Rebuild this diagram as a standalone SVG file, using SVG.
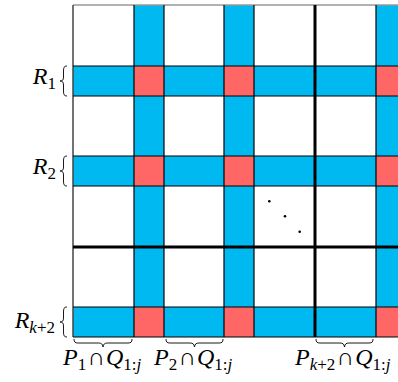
<svg xmlns="http://www.w3.org/2000/svg" width="398" height="382" viewBox="0 0 398 382">
<style>
.blue{fill:#00B9F1}
.red{fill:#FF6666}
.thin{stroke:#000;stroke-width:1.2;fill:none}
.thick{stroke:#000;stroke-width:3;fill:none}
.brace{stroke:#000;stroke-width:0.9;fill:none}
.lbl{font-family:"Liberation Serif","Times New Roman",serif;font-size:24px;fill:#000}
.it{font-style:italic}
.sub{font-size:17px}
</style>
<rect width="398" height="382" fill="#fff"/>
<g id="matrix">
  <g id="bands">
    <rect class="blue" x="134" y="5" width="30" height="332"/>
    <rect class="blue" x="224" y="5" width="30" height="332"/>
    <rect class="blue" x="376" y="5" width="30" height="332"/>
    <rect class="blue" x="73" y="66" width="330" height="30"/>
    <rect class="blue" x="73" y="156" width="330" height="30"/>
    <rect class="blue" x="73" y="307" width="330" height="30"/>
  </g>
  <g id="intersections">
    <rect class="red" x="134" y="66" width="30" height="30"/>
    <rect class="red" x="224" y="66" width="30" height="30"/>
    <rect class="red" x="376" y="66" width="30" height="30"/>
    <rect class="red" x="134" y="156" width="30" height="30"/>
    <rect class="red" x="224" y="156" width="30" height="30"/>
    <rect class="red" x="376" y="156" width="30" height="30"/>
    <rect class="red" x="134" y="307" width="30" height="30"/>
    <rect class="red" x="224" y="307" width="30" height="30"/>
    <rect class="red" x="376" y="307" width="30" height="30"/>
  </g>
  <g id="gridlines">
    <line x1="73" y1="5" x2="398" y2="5" stroke="#999" stroke-width="1.5"/>
    <line x1="73" y1="5" x2="73" y2="337" stroke="#444" stroke-width="1.5"/>
    <line class="thin" x1="134" y1="5" x2="134" y2="337"/>
    <line class="thin" x1="164" y1="5" x2="164" y2="337"/>
    <line class="thin" x1="224" y1="5" x2="224" y2="337"/>
    <line class="thin" x1="254" y1="5" x2="254" y2="337"/>
    <line class="thin" x1="376" y1="5" x2="376" y2="337"/>
    <line class="thin" x1="73" y1="66" x2="398" y2="66"/>
    <line class="thin" x1="73" y1="96" x2="398" y2="96"/>
    <line class="thin" x1="73" y1="156" x2="398" y2="156"/>
    <line class="thin" x1="73" y1="186" x2="398" y2="186"/>
    <line class="thin" x1="73" y1="307" x2="398" y2="307"/>
    <line class="thin" x1="73" y1="337" x2="398" y2="337"/>
    <line class="thick" x1="315" y1="5" x2="315" y2="337"/>
    <line class="thick" x1="73" y1="247" x2="398" y2="247"/>
  </g>
  <g id="dots" fill="#000">
    <circle cx="269.3" cy="201.3" r="1.3"/>
    <circle cx="285" cy="216.3" r="1.3"/>
    <circle cx="299.7" cy="231.7" r="1.3"/>
  </g>
</g>
<g id="braces">
  <path class="brace" d="M67,66 C64,66 63.5,67.5 63.5,71 L63.5,77 C63.5,80 62.5,81 60,81 C62.5,81 63.5,82 63.5,85 L63.5,91 C63.5,94.5 64,96 67,96"/>
  <path class="brace" d="M67,156 C64,156 63.5,157.5 63.5,161 L63.5,167 C63.5,170 62.5,171 60,171 C62.5,171 63.5,172 63.5,175 L63.5,181 C63.5,184.5 64,186 67,186"/>
  <path class="brace" d="M67,307 C64,307 63.5,308.5 63.5,312 L63.5,318 C63.5,321 62.5,322 60,322 C62.5,322 63.5,323 63.5,326 L63.5,332 C63.5,335.5 64,337 67,337"/>
  <path class="brace" d="M74,339 C74,342 75,343 78,343 L98.5,343 C101.5,343 102.5,344 103,347 C103.5,344 104.5,343 107.5,343 L128,343 C131,343 132,342 132,339"/>
  <path class="brace" d="M166,339 C166,342 167,343 170,343 L190,343 C193,343 194,344 194.5,347 C195,344 196,343 199,343 L219,343 C222,343 223,342 223,339"/>
  <path class="brace" d="M316,339 C316,342 317,343 320,343 L340,343 C343,343 344,344 344.5,347 C345,344 346,343 349,343 L369,343 C372,343 373,342 373,339"/>
</g>
<g id="labels" class="lbl">
  <text x="56" y="84" text-anchor="end"><tspan class="it">R</tspan><tspan class="sub" dy="5">1</tspan></text>
  <text x="56" y="174" text-anchor="end"><tspan class="it">R</tspan><tspan class="sub" dy="5">2</tspan></text>
  <text x="55" y="328" text-anchor="end"><tspan class="it">R</tspan><tspan class="sub it" dy="5">k</tspan><tspan class="sub">+2</tspan></text>
  <text x="63" y="365"><tspan class="it">P</tspan><tspan class="sub" dy="5">1</tspan><tspan dy="-5" dx="1.5">∩</tspan><tspan class="it" dx="1">Q</tspan><tspan class="sub" dy="5">1:</tspan><tspan class="sub it">j</tspan></text>
  <text x="154" y="365"><tspan class="it">P</tspan><tspan class="sub" dy="5">2</tspan><tspan dy="-5" dx="1.5">∩</tspan><tspan class="it" dx="1">Q</tspan><tspan class="sub" dy="5">1:</tspan><tspan class="sub it">j</tspan></text>
  <text x="295" y="365"><tspan class="it">P</tspan><tspan class="sub it" dy="5">k</tspan><tspan class="sub">+2</tspan><tspan dy="-5" dx="1.5">∩</tspan><tspan class="it" dx="1">Q</tspan><tspan class="sub" dy="5">1:</tspan><tspan class="sub it">j</tspan></text>
</g>
</svg>
